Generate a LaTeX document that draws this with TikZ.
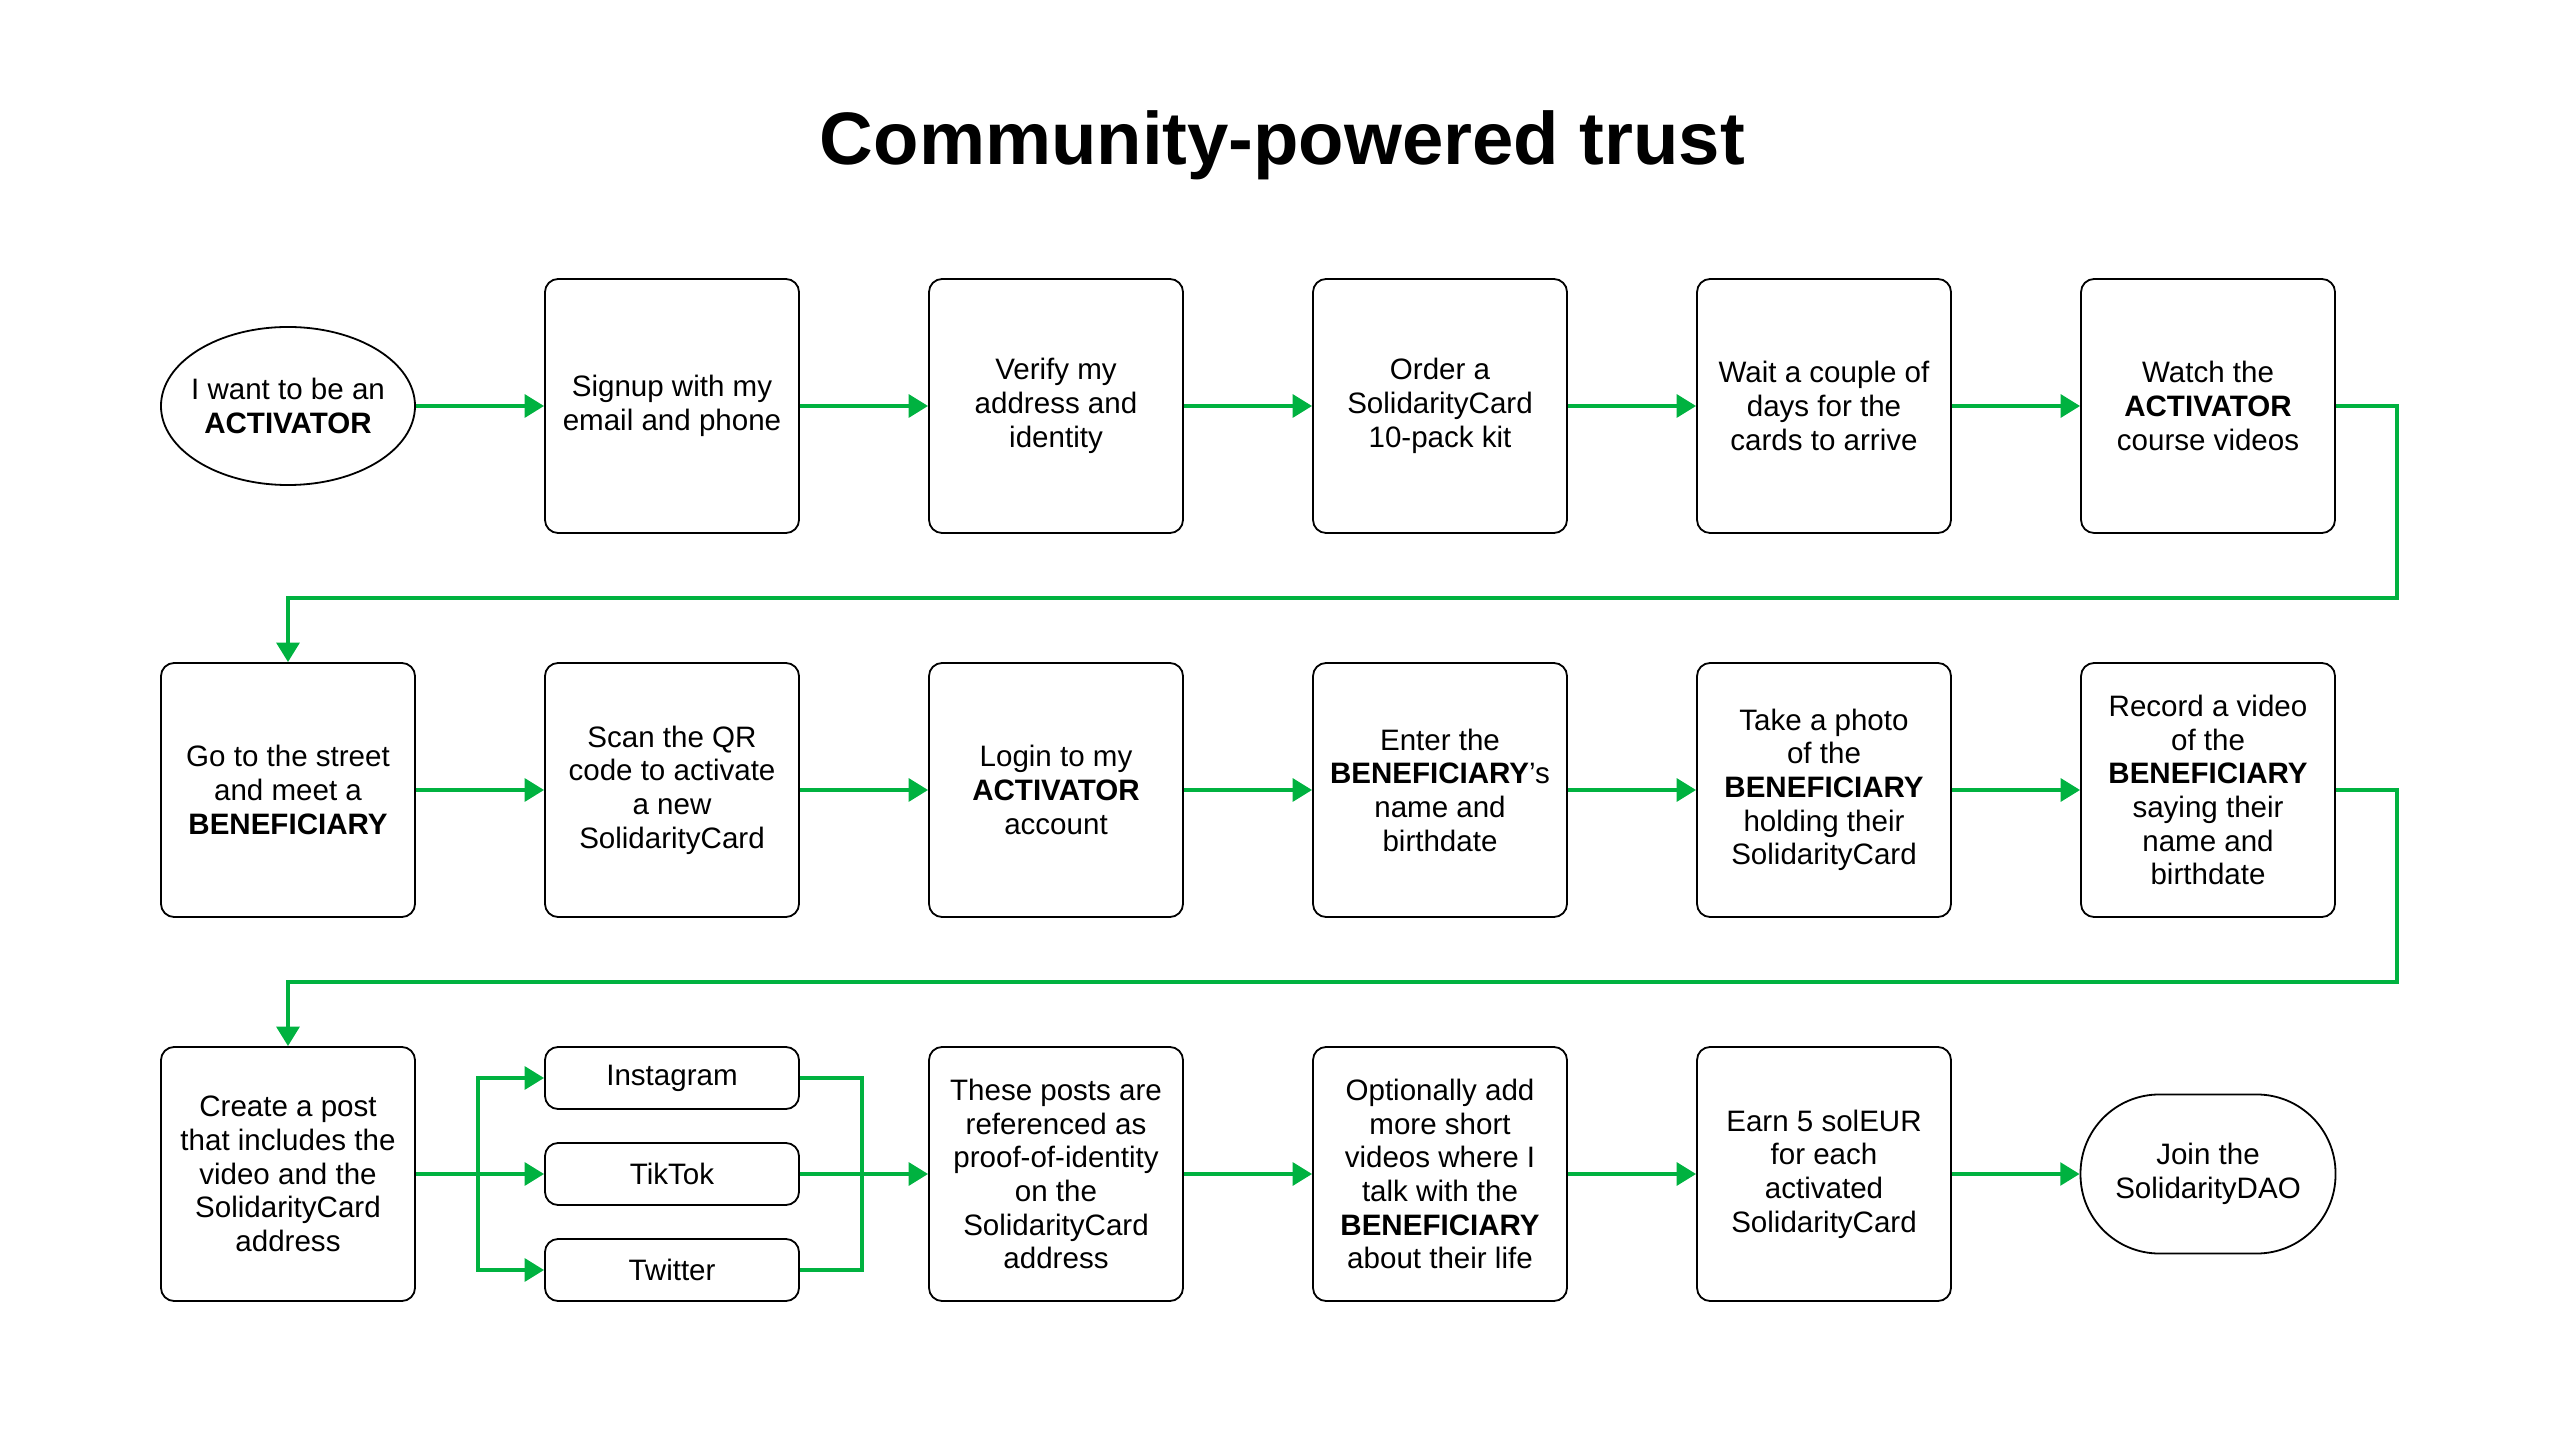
\documentclass[tikz,border=0pt]{standalone}
\usepackage{fontspec}
\setmainfont{Liberation Sans}
\usetikzlibrary{arrows.meta,shapes.geometric}
\definecolor{flowgreen}{RGB}{0,178,64}

\begin{document}
\begin{tikzpicture}[x=1pt,y=-1pt,
    every node/.style={font=\fontsize{18}{20.5}\selectfont, align=center, inner sep=0pt},
    stepbox/.style={draw, line width=1.1pt, rounded corners=8pt, minimum width=154.8pt, minimum height=154.8pt},
    startnode/.style={draw, line width=1.1pt, ellipse, inner xsep=-4.5pt, minimum width=154.8pt, minimum height=96.3pt},
    endnode/.style={draw, line width=1.1pt, rounded corners=48pt, minimum width=155.4pt, minimum height=96.9pt},
    platbox/.style={draw, line width=1.1pt, rounded corners=8pt, minimum width=154.8pt, minimum height=37.8pt},
    flow/.style={flowgreen, line width=2.4pt, -{Triangle[length=11.8pt,width=13.8pt]}},
    link/.style={flowgreen, line width=2.4pt}]
    \useasboundingbox (0,0) rectangle (1560,877.5);

    \node[anchor=base, font=\fontsize{45.3}{50}\bfseries] (title) at (781.5,100.5) {Community-powered trust};

    % first row: becoming an activator
    \node[startnode] (a0) at (175.5,247.4) {I want to be an\\\textbf{ACTIVATOR}};
    \node[stepbox] (a1) at (409.5,247.4) {Signup with my\\email and phone};
    \node[stepbox] (a2) at (643.5,247.4) {Verify my\\address and\\identity};
    \node[stepbox] (a3) at (877.5,247.4) {Order a\\SolidarityCard\\10-pack kit};
    \node[stepbox] (a4) at (1111.5,247.4) {Wait a couple of\\days for the\\cards to arrive};
    \node[stepbox] (a5) at (1345.5,247.4) {Watch the\\\textbf{ACTIVATOR}\\course videos};

    % second row: meeting the beneficiary
    \node[stepbox] (b0) at (175.5,481.4) {Go to the street\\and meet a\\\textbf{BENEFICIARY}};
    \node[stepbox] (b1) at (409.5,481.4) {Scan the QR\\code to activate\\a new\\SolidarityCard};
    \node[stepbox] (b2) at (643.5,481.4) {Login to my\\\textbf{ACTIVATOR}\\account};
    \node[stepbox] (b3) at (877.5,481.4) {Enter the\\\textbf{BENEFICIARY}’s\\name and\\birthdate};
    \node[stepbox] (b4) at (1111.5,481.4) {Take a photo\\of the\\\textbf{BENEFICIARY}\\holding their\\SolidarityCard};
    \node[stepbox] (b5) at (1345.5,481.4) {Record a video\\of the\\\textbf{BENEFICIARY}\\saying their\\name and\\birthdate};

    % third row: posting and earning
    \node[stepbox] (c0) at (175.5,715.4) {Create a post\\that includes the\\video and the\\SolidarityCard\\address};
    \node[platbox] (ig) at (409.5,656.9) {Instagram};
    \node[platbox] (tt) at (409.5,715.4) {TikTok};
    \node[platbox] (tw) at (409.5,773.9) {Twitter};
    \node[stepbox] (c2) at (643.5,715.4) {These posts are\\referenced as\\proof-of-identity\\on the\\SolidarityCard\\address};
    \node[stepbox] (c3) at (877.5,715.4) {Optionally add\\more short\\videos where I\\talk with the\\\textbf{BENEFICIARY}\\about their life};
    \node[stepbox] (c4) at (1111.5,715.4) {Earn 5 solEUR\\for each\\activated\\SolidarityCard};
    \node[endnode] (c5) at (1345.5,715.4) {Join the\\SolidarityDAO};

    \coordinate (turn1) at (1460.7,364.4);
    \coordinate (turn2) at (1460.7,598.4);
    \coordinate (fork) at (291.5,715.4);
    \coordinate (join) at (525.5,715.4);

    \foreach \from/\to in {a0/a1,a1/a2,a2/a3,a3/a4,a4/a5,b0/b1,b1/b2,b2/b3,b3/b4,b4/b5,c0/tt,tt/c2,c2/c3,c3/c4,c4/c5}
        \draw[flow] (\from) -- (\to);

    \draw[flow] (a5.east) -| (turn1) -| (b0.north);
    \draw[flow] (b5.east) -| (turn2) -| (c0.north);
    \draw[flow] (fork) |- (ig.west);
    \draw[flow] (fork) |- (tw.west);
    \draw[link] (ig.east) -| (join) |- (tw.east);
\end{tikzpicture}
\end{document}
